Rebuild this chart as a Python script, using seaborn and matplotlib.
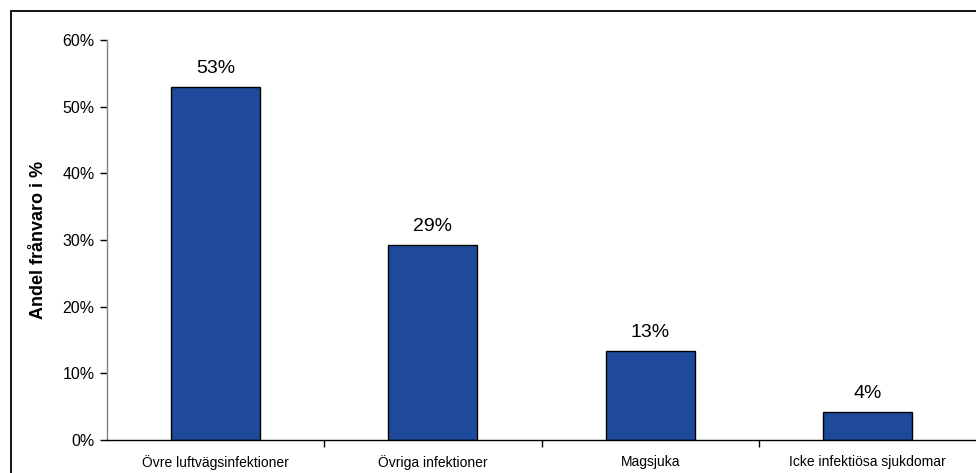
import matplotlib
matplotlib.use("Agg")
import matplotlib.pyplot as plt
import seaborn as sns
import pandas as pd
from matplotlib.patches import Rectangle
from matplotlib.ticker import FuncFormatter, FixedLocator

categories = ["Övre luftvägsinfektioner", "Övriga infektioner", "Magsjuka", "Icke infektiösa sjukdomar"]
shares = [53.0, 29.3, 13.4, 4.2]
y_ticks = [0, 10, 20, 30, 40, 50, 60]
y_label = "Andel frånvaro i %"

sns.set_theme(style="white")
plt.rcParams["font.family"] = ["Liberation Sans", "DejaVu Sans"]

df = pd.DataFrame({"kategori": categories, "andel": shares})

fig = plt.figure(figsize=(9.76, 4.73), dpi=100)
ax = fig.add_axes([107 / 976, 33 / 473, 869 / 976, 400 / 473])

sns.barplot(data=df, x="kategori", y="andel", color="#1F4A9C", saturation=1,
            width=0.41, edgecolor="black", linewidth=1.0, ax=ax)

for cont in ax.containers:
    ax.bar_label(cont, labels=[f"{v:.0f}%" for v in shares], padding=7,
                 fontsize=14, color="black")

ax.set_xlim(-0.5, 3.5)
ax.set_ylim(0, 60)
ax.yaxis.set_major_locator(FixedLocator(y_ticks))
ax.yaxis.set_major_formatter(FuncFormatter(lambda v, p: f"{v:.0f}%"))
ax.set_xlabel("")
ax.set_ylabel(y_label, fontsize=13, fontweight="bold", labelpad=11, color="black")

for s in ["top", "right"]:
    ax.spines[s].set_visible(False)
ax.spines["left"].set_color("#808080")
ax.spines["left"].set_linewidth(1.0)
ax.spines["bottom"].set_color("black")
ax.spines["bottom"].set_linewidth(1.0)

# Y ticks outward on the left, x ticks marking category boundaries
ax.tick_params(axis="y", which="major", direction="out", length=5, width=1,
               color="black", labelsize=11.5, labelcolor="black", left=True, pad=4)
ax.set_xticks(range(len(categories)))
ax.set_xticklabels(categories)
ax.tick_params(axis="x", which="major", length=0, labelsize=10, labelcolor="black", pad=11)
ax.set_xticks([0.5, 1.5, 2.5], minor=True)
ax.tick_params(axis="x", which="minor", direction="out", length=5, width=1,
               color="black", bottom=True)

# Outer chart frame
fig.patches.append(Rectangle((11 / 976, -0.1), 1.2, (473 - 11) / 473 + 0.1,
                             transform=fig.transFigure, fill=False,
                             edgecolor="black", linewidth=1.3))

fig.savefig("out.png", dpi=100, facecolor="white")
